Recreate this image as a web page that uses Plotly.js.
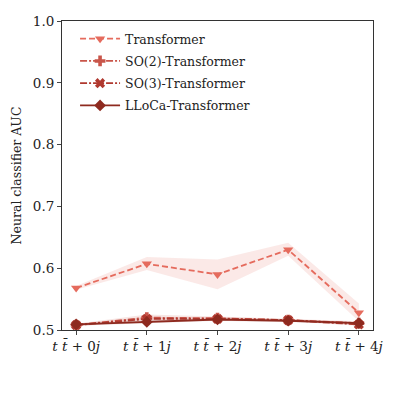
<!DOCTYPE html>
<html><head><meta charset="utf-8">
<script src="https://cdn.plot.ly/plotly-3.0.1.min.js"></script>
<style>body{margin:0;background:#fff}#c{width:393px;height:393px}</style>
</head><body><div id="c"></div>
<script>
const categories = ["<i>t</i> <i>t̄</i> + 0<i>j</i>","<i>t</i> <i>t̄</i> + 1<i>j</i>","<i>t</i> <i>t̄</i> + 2<i>j</i>","<i>t</i> <i>t̄</i> + 3<i>j</i>","<i>t</i> <i>t̄</i> + 4<i>j</i>"];
const xIdx = [0,1,2,3,4];
const transformer = [0.568, 0.607, 0.590, 0.630, 0.528];
const transformerLo = [0.565, 0.597, 0.566, 0.620, 0.514];
const transformerHi = [0.571, 0.618, 0.614, 0.641, 0.543];
const so2 = [0.508, 0.520, 0.519, 0.516, 0.511];
const so2Lo = [0.506, 0.516, 0.516, 0.514, 0.508];
const so2Hi = [0.510, 0.525, 0.522, 0.518, 0.514];
const so3 = [0.508, 0.518, 0.518, 0.516, 0.509];
const so3Lo = [0.506, 0.515, 0.515, 0.514, 0.507];
const so3Hi = [0.510, 0.521, 0.521, 0.518, 0.512];
const lloca = [0.509, 0.513, 0.517, 0.515, 0.511];
const llocaLo = [0.507, 0.511, 0.515, 0.513, 0.509];
const llocaHi = [0.511, 0.515, 0.519, 0.517, 0.513];
const names = ["Transformer","SO(2)-Transformer","SO(3)-Transformer","LLoCa-Transformer"];
const colors = ["#e56b5d","#c9554a","#b0392f","#8e2a1f"];
const fills = ["rgba(229,107,93,0.15)","rgba(201,85,74,0.15)","rgba(176,57,47,0.15)","rgba(142,42,31,0.15)"];
const dashes = ["6px,3px","7px,2px,2px,2px","7px,2px,2px,2px","solid"];
const symbols = ["triangle-down","cross","x","diamond"];
const series = [transformer, so2, so3, lloca];
const los = [transformerLo, so2Lo, so3Lo, llocaLo];
const his = [transformerHi, so2Hi, so3Hi, llocaHi];
const traces = [];
for (let i = 0; i < 4; i++) {
  traces.push({x: xIdx.concat(xIdx.slice().reverse()), y: his[i].concat(los[i].slice().reverse()),
    fill: 'toself', fillcolor: fills[i], line: {width: 0}, mode: 'lines', showlegend: false, hoverinfo: 'skip'});
}
for (let i = 0; i < 4; i++) {
  traces.push({x: xIdx, y: series[i], name: names[i], mode: 'lines+markers', legendgroup: 'g' + i,
    line: {color: colors[i], width: 1.8, dash: dashes[i]},
    marker: {symbol: symbols[i], size: 9, color: colors[i], line: {width: 0}}});
}
const layout = {
  width: 393, height: 393,
  margin: {l: 62, r: 20, t: 21, b: 63},
  paper_bgcolor: '#fff', plot_bgcolor: '#fff',
  font: {family: 'DejaVu Serif, serif', size: 13, color: '#222'},
  showlegend: true,
  legend: {x: 0.042, y: 0.99, xanchor: 'left', yanchor: 'top', bgcolor: 'rgba(0,0,0,0)',
    font: {size: 12.5}, tracegroupgap: 3, itemwidth: 40},
  xaxis: {range: [-0.2, 4.2], tickvals: xIdx, ticktext: categories, ticks: 'outside', ticklen: 4,
    showgrid: false, zeroline: false, showline: true, mirror: true, linecolor: '#333', linewidth: 1,
    tickfont: {size: 13.5}},
  yaxis: {range: [0.5, 1.0], dtick: 0.1, tickformat: '.1f', ticks: 'outside', ticklen: 4,
    showgrid: false, zeroline: false, showline: true, mirror: true, linecolor: '#333', linewidth: 1,
    title: {text: 'Neural classifier AUC', font: {size: 12.5}, standoff: 8}, tickfont: {size: 13.5}}
};
Plotly.newPlot('c', traces, layout, {displayModeBar: false, staticPlot: true});
</script></body></html>
